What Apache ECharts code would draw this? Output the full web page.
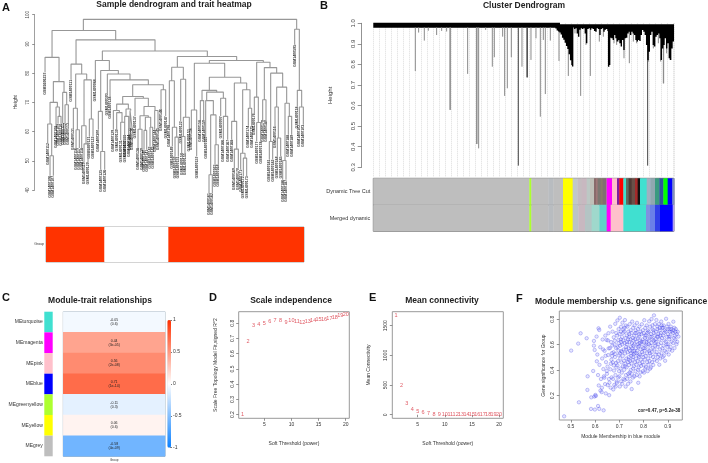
<!DOCTYPE html>
<html>
	<head>
		<meta charset="UTF-8">
		<title>WGCNA panels</title>
	</head>
	<style>
		*{
			padding: 0;
			margin: 0;
		}
		html,body{
			width:100%;
			height:100%;
			background:#fff;
		}
		#chart{
			width:708px;
			height:463px;
		}
	</style>
	<body>
		<div id="chart"></div>
	</body>
<script src="https://cdn.jsdelivr.net/npm/echarts@6/dist/echarts.min.js"></script>
<script>
    // A: sample tree, each branch = [left pos, right pos, merge height, left end, right end]
    var treeBranches = [
        [250,890,98.4,94.6,95.0],[884,898,95.0,89.7,74.1],[892,905,74.1,68.6,68.4],[898,910,68.4,62.3,62.3],
        [156,347,94.6,85.4,91.4],[135,177,85.4,80.2,77.1],[160,192,77.1,70.0,73.4],[150,172,70.0,62.6,68.4],
        [143,155,62.6,56.1,51.7],[150,160,51.7,44.9,44.9],[168,178,68.4,62.0,65.2],[174,183,65.2,62.7,62.7],
        [188,200,73.4,62.9,69.2],[195,205,69.2,62.9,62.9],
        [228,465,91.4,83.1,87.6],[213,245,83.1,77.7,79.7],[227,260,79.7,68.0,77.7],[220,232,68.0,61.2,60.6],
        [228,238,60.6,54.4,54.4],[252,274,77.7,62.0,64.3],[245,258,62.0,54.4,55.8],[252,264,55.8,49.5,49.5],
        [268,279,64.3,58.3,58.3],
        [307,622,87.6,84.3,85.7],[286,328,84.3,77.9,80.9],[302,355,80.9,66.9,79.7],[295,307,66.9,60.6,53.2],
        [302,314,53.2,46.9,46.9],[322,390,79.7,73.1,77.7],[330,445,77.7,72.0,76.0],[398,490,76.0,72.0,74.3],
        [368,430,72.0,69.4,71.4],[350,385,69.4,67.2,67.7],[340,358,67.2,60.6,66.5],[350,366,66.5,60.8,63.2],
        [362,374,63.2,57.0,57.0],[378,392,67.7,65.2,67.2],[374,386,65.2,58.9,58.9],[390,396,67.2,61.2,61.2],
        [405,445,71.4,65.2,68.6],[432,465,68.6,65.4,67.2],[420,445,65.4,60.8,64.9],[414,426,60.8,54.4,54.4],
        [436,452,64.9,60.4,61.5],[432,440,60.4,53.8,53.8],[450,458,61.5,54.9,54.9],[464,474,67.2,60.6,61.2],
        [483,497,74.3,67.7,65.2],
        [532,710,85.7,82.0,84.3],[515,550,82.0,77.4,77.9],[508,523,77.4,62.3,61.5],[517,530,61.5,54.9,58.1],
        [525,535,58.1,51.5,51.5],[542,557,77.9,63.5,64.9],[550,568,64.9,58.3,60.8],[545,555,58.3,52.6,52.6],
        [628,790,84.3,83.4,83.7],[583,674,83.4,67.4,78.6],[574,590,67.4,61.2,51.5],[628,722,78.6,74.1,76.6],
        [606,650,74.1,70.6,73.5],[601,611,70.6,64.0,64.0],[620,670,73.5,70.6,71.4],[617,640,70.6,58.3,65.7],
        [632,648,65.7,45.2,55.5],[627,637,45.2,39.0,39.0],[645,655,55.5,48.7,48.7],[662,677,71.4,65.2,65.2],
        [670,683,65.2,57.2,57.2],[703,740,76.6,63.5,74.3],[695,710,63.5,57.2,54.0],[703,715,54.0,47.5,47.5],
        [728,750,74.3,52.6,68.0],[722,735,52.6,46.9,50.9],[730,740,50.9,44.7,44.7],[745,755,68.0,62.0,62.0],
        [770,810,83.7,71.8,81.9],[763,775,71.8,66.3,63.1],[770,782,63.1,56.6,56.6],[793,830,81.9,70.9,80.0],
        [788,798,70.9,64.0,64.0],[812,848,80.0,56.6,75.2],[808,818,56.6,50.4,50.4],[830,860,75.2,68.4,69.7],
        [825,835,68.4,61.8,57.8],[832,842,57.8,51.5,51.5],[855,868,69.7,50.1,65.2],[848,858,50.1,43.5,43.5],
        [865,875,65.2,58.9,58.9]
    ];
    var namedLeaves = {135:'GSM1606237',143:'GSM1400112',213:'GSM1400111',220:'GSM1400131',286:'GSM1400088',295:'GSM1400300',322:'GSM1400303',508:'GSM1400198',542:'GSM1400122',662:'GSM1400097',825:'GSM1400116',884:'GSM1400595',892:'GSM1400118'};
    var groupSizes = [22,24,51];
    var groupColors = ['#ff3300','#ffffff','#ff3300'];

    // B: gene tree
    var geneDrops = [[126,.768],[136,.955],[153,.916],[165,.964],[190,.943],[205,.963],[220,.96],[230,.579],[231,.579],[283,.754],[310,.413],[311,.413],[316,.392],[337,.968],[357,.789],[363,.835],[388,.935],[394,.647],[402,.684],[414,.835],[446,.789],[473,.822],[488,.927],[501,.546],[510,.919],[516,.656],[531,.916],[557,.817],[585,.744],[605,.951],[622,.647],[638,.895],[651,.744],[678,.911],[690,.935],[722,.903],[730,.895],[735,.911],[752,.83],[768,.806],[780,.911],[790,.903],[825,.814],[840,.878],[855,.903],[862,.814],[870,.708],[871,.708],[880,.854],[890,.822]];
    var geneDarkDrops = [[435,.308],[461,.737],[462,.737],[823,.308]];
    var geneDense = [[548,.975],[552,.965],[556,.96],[560,.955],[564,.945],[568,.93],[572,.92],[576,.905],[580,.89],[584,.875],[588,.85],[592,.82],[596,.797],[598,.79],[600,.979],[604,.972],[608,.976],[612,.951],[616,.935],[620,.969],[624,.976],[628,.972],[632,.976],[636,.951],[640,.903],[644,.972],[648,.976],[652,.969],[656,.976],[660,.972],[664,.963],[668,.959],[672,.976],[676,.972],[680,.943],[684,.972],[688,.976],[692,.959],[696,.969],[700,.972],[704,.963],[706,.789],[709,.797],[712,.93],[716,.927],[720,.919],[724,.943],[728,.927],[732,.911],[736,.919],[740,.903],[744,.887],[748,.919],[752,.87],[756,.927],[760,.93],[764,.951],[768,.959],[772,.943],[776,.959],[780,.951],[784,.943],[788,.919],[792,.911],[796,.919],[800,.914],[804,.943],[808,.968],[812,.959],[816,.943],[820,.895],[824,.822],[828,.862],[832,.943],[836,.959],[840,.895],[844,.887],[848,.935],[852,.943],[856,.951],[860,.927],[864,.822],[868,.878],[872,.895],[876,.927],[880,.878],[884,.903],[888,.83],[892,.822],[896,.878],[900,.911]];
    var geneBandEnd = 560;
    var colorRowNames = ['Merged dynamic','Dynamic Tree Cut'];
    var dynamicRow = [[0,468,'#bebebe'],[468,474,'#adff2f'],[474,525,'#bebebe'],[525,540,'#b8bcc0'],[540,569,'#bebebe'],[569,598,'#ffff00'],[598,612,'#c0c8c8'],[612,625,'#c4bcc0'],[625,640,'#c8b8c0'],[640,650,'#bcc8c4'],[650,662,'#c0c0b8'],[662,668,'#8a6a6a'],[668,673,'#a07878'],[673,682,'#7d7770'],[682,688,'#8a7a6a'],[688,698,'#807070'],[698,700,'#a09090'],[700,716,'#ff00ff'],[716,731,'#ffc0cb'],[731,738,'#8020a0'],[738,750,'#ff0000'],[750,758,'#40e0d0'],[758,766,'#5f6a60'],[766,775,'#4f3a35'],[775,785,'#6a5048'],[785,793,'#a52a2a'],[793,800,'#111111'],[800,820,'#40e0d0'],[820,832,'#a0b0c0'],[832,845,'#90a8b0'],[845,858,'#3a9a80'],[858,870,'#3050a0'],[870,883,'#00ff00'],[883,897,'#0000ff'],[897,902,'#8090c0']];
    var mergedRow = [[0,468,'#bebebe'],[468,474,'#adff2f'],[474,525,'#bebebe'],[525,540,'#b8bcc0'],[540,569,'#bebebe'],[569,598,'#ffff00'],[598,615,'#bcc4c4'],[615,635,'#c8b8c0'],[635,655,'#b4c4c4'],[655,678,'#9fd8cc'],[678,700,'#5fd0c8'],[700,712,'#ff00ff'],[712,750,'#ffc0cb'],[750,818,'#40e0d0'],[818,830,'#8090e0'],[830,845,'#6a80e8'],[845,860,'#3040e8'],[860,898,'#0000ff'],[898,902,'#b0a0f0']];

    // C: module-trait table
    var moduleNames = ['MEturquoise','MEmagenta','MEpink','MEblue','MEgreenyellow','MEyellow','MEgrey'];
    var moduleColors = ['#40e0d0','#ff00ff','#ffc0cb','#0000ff','#adff2f','#ffff00','#bebebe'];
    var moduleCor = [-0.05,0.44,0.56,0.71,-0.11,0.06,-0.58];
    var moduleCellText = ['-0.05\n(0.6)','0.44\n(3e-05)','0.56\n(2e-08)','0.71\n(1e-14)','-0.11\n(0.3)','0.06\n(0.6)','-0.58\n(4e-09)'];

    // D / E: soft threshold
    var softPowers = [1,2,3,4,5,6,7,8,9,10,11,12,13,14,15,16,17,18,19,20];
    var fitIndex = [.2,.679,.784,.793,.8,.81,.817,.817,.806,.817,.813,.806,.81,.817,.824,.826,.83,.835,.848,.856];
    var meanConn = [1668,489,197,96,56,34,28,11,8,6,5,4,3,3,2,2,2,1,1,1];
    var powerTicks = [5,10,15,20];
    var fitTicks = [.2,.3,.4,.5,.6,.7,.8];
    var connTicks = [0,500,1000,1500];

    // F: blue module genes [membership, significance]
    var geneDots = [
        [.472,.038],[.501,.554],[.53,.609],[.54,.69],[.565,.651],[.533,.148],[.568,.245],[.569,.352],[.583,.096],[.584,.187],[.597,.193],[.601,.206],[.603,.198],[.599,.091],[.617,.096],[.612,.119],[.635,.085],[.592,.394],[.598,.559],[.595,.63],[.595,.593],[.614,.729],
        [.607,.47],[.612,.362],[.609,.523],[.615,.28],[.606,.664],[.621,.581],[.624,.331],[.618,.442],[.628,.262],[.617,.716],[.622,.24],[.633,.563],[.631,.641],[.636,.352],[.627,.228],[.629,.492],[.634,.409],
        [.642,.672],[.638,.341],[.645,.463],[.641,.291],[.647,.638],[.644,.218],[.639,.552],[.648,.394],[.643,.513],[.653,.634],[.656,.572],[.651,.428],[.657,.331],[.652,.283],[.658,.204],[.654,.519],[.649,.372],[.655,.691],
        [.662,.742],[.666,.621],[.661,.573],[.667,.482],[.663,.407],[.668,.344],[.659,.302],[.664,.263],[.669,.534],[.665,.451],[.672,.703],[.677,.659],[.671,.594],[.676,.541],[.673,.462],[.678,.397],[.674,.332],[.679,.284],[.675,.249],[.67,.512],[.677,.438],
        [.683,.764],[.687,.692],[.681,.631],[.686,.574],[.682,.503],[.688,.421],[.684,.362],[.689,.312],[.685,.272],[.68,.602],[.687,.457],[.683,.528],[.692,.791],[.697,.723],[.691,.672],[.696,.638],[.693,.581],[.698,.517],[.694,.471],[.699,.392],[.695,.343],[.69,.301],[.697,.612],[.692,.438],[.696,.553],
        [.702,.812],[.707,.741],[.701,.684],[.706,.642],[.703,.592],[.708,.551],[.704,.493],[.709,.462],[.705,.413],[.7,.352],[.707,.312],[.702,.272],[.706,.703],[.703,.531],[.708,.622],[.713,.773],[.717,.722],[.711,.661],[.716,.633],[.712,.602],[.718,.563],[.714,.512],[.719,.474],[.715,.431],[.71,.381],[.717,.332],[.712,.293],[.716,.693],[.711,.544],
        [.723,.794],[.727,.751],[.721,.702],[.726,.653],[.722,.614],[.728,.582],[.724,.532],[.729,.491],[.725,.452],[.72,.403],[.727,.362],[.722,.324],[.726,.271],[.721,.733],[.728,.563],[.723,.431],[.733,.742],[.737,.703],[.731,.672],[.736,.641],[.732,.603],[.738,.572],[.734,.541],[.739,.503],[.735,.463],[.73,.423],[.737,.372],[.732,.332],[.736,.293],[.731,.622],[.738,.484],
        [.743,.762],[.747,.714],[.741,.683],[.746,.642],[.742,.621],[.748,.584],[.744,.552],[.749,.513],[.745,.474],[.74,.441],[.747,.402],[.742,.353],[.746,.312],[.741,.664],[.748,.533],[.743,.382],[.753,.782],[.757,.733],[.751,.692],[.756,.654],[.752,.612],[.758,.593],[.754,.551],[.759,.524],[.755,.482],[.75,.453],[.757,.414],[.752,.373],[.756,.342],[.751,.252],[.758,.634],[.753,.572],[.757,.503],
        [.763,.752],[.767,.713],[.761,.671],[.766,.643],[.762,.604],[.768,.572],[.764,.532],[.769,.492],[.765,.463],[.76,.431],[.767,.392],[.762,.352],[.766,.691],[.761,.553],[.773,.772],[.777,.724],[.771,.693],[.776,.652],[.772,.623],[.778,.584],[.774,.553],[.779,.514],[.775,.472],[.77,.443],[.777,.404],[.772,.362],[.776,.604],[.771,.534],[.778,.301],
        [.783,.742],[.787,.703],[.781,.664],[.786,.632],[.782,.591],[.788,.563],[.784,.524],[.789,.483],[.785,.452],[.78,.421],[.787,.383],[.782,.682],[.786,.614],[.781,.503],[.784,.352],[.793,.761],[.797,.714],[.791,.683],[.796,.642],[.792,.604],[.798,.572],[.794,.543],[.799,.502],[.795,.463],[.79,.434],[.797,.392],[.792,.623],[.796,.524],
        [.803,.793],[.807,.732],[.801,.691],[.806,.654],[.802,.623],[.808,.592],[.804,.553],[.809,.512],[.805,.484],[.8,.442],[.807,.413],[.802,.381],[.806,.672],[.803,.574],[.813,.752],[.817,.713],[.811,.674],[.816,.642],[.812,.603],[.818,.564],[.814,.532],[.819,.492],[.815,.463],[.81,.424],[.817,.393],[.812,.621],[.816,.694],
        [.823,.784],[.827,.742],[.821,.703],[.826,.664],[.822,.632],[.828,.593],[.824,.552],[.829,.513],[.825,.472],[.82,.443],[.827,.412],[.822,.604],[.826,.534],[.833,.802],[.837,.723],[.831,.684],[.836,.642],[.832,.613],[.838,.574],[.834,.543],[.839,.504],[.835,.463],[.83,.422],[.837,.753],[.832,.662],
        [.843,.831],[.847,.762],[.841,.714],[.846,.672],[.842,.634],[.848,.593],[.844,.564],[.849,.524],[.845,.483],[.84,.441],[.847,.612],[.842,.693],[.853,.794],[.857,.743],[.851,.703],[.856,.664],[.852,.623],[.858,.584],[.854,.542],[.859,.503],[.855,.472],[.85,.643],[.857,.723],
        [.863,.762],[.867,.713],[.861,.684],[.866,.642],[.862,.603],[.868,.564],[.864,.523],[.869,.492],[.865,.443],[.86,.664],[.867,.732],[.873,.782],[.877,.734],[.871,.692],[.876,.653],[.872,.614],[.878,.572],[.874,.534],[.879,.503],[.875,.752],[.87,.673],
        [.883,.752],[.887,.713],[.881,.672],[.886,.634],[.882,.593],[.888,.553],[.884,.514],[.889,.474],[.885,.694],[.88,.733],[.893,.804],[.897,.742],[.891,.703],[.896,.662],[.892,.624],[.898,.584],[.894,.542],[.899,.723],[.895,.603],
        [.903,.763],[.907,.721],[.901,.683],[.906,.643],[.902,.604],[.908,.562],[.904,.523],[.909,.702],[.905,.664],[.913,.742],[.917,.703],[.911,.664],[.916,.624],[.912,.582],[.918,.553],[.914,.723],
        [.923,.781],[.927,.733],[.921,.692],[.926,.652],[.922,.613],[.928,.574],[.924,.714],[.929,.672],[.933,.723],[.937,.683],[.931,.642],[.936,.604],[.932,.703],[.941,.702],[.944,.664],[.939,.623]
    ];
    var memberTicks = [.5,.6,.7,.8,.9];
    var signifTicks = [.2,.4,.6,.8];

    var fontName = '"Liberation Sans"';
    var boxColor = '#999';

    // leaves = branch ends that no other branch starts from
    var treeLine = [];
    var leafDots = [];
    treeBranches.forEach(function (b) {
        treeLine.push([b[0], b[3]], [b[0], b[2]], [b[1], b[2]], [b[1], b[4]], [null, null]);
        [[b[0], b[3]], [b[1], b[4]]].forEach(function (end) {
            var inner = treeBranches.some(function (o) {
                return o[2] === end[1] && o[0] <= end[0] && end[0] <= o[1];
            });
            if (!inner) leafDots.push(end);
        });
    });

    function dropLine(list, top) {
        var out = [];
        list.forEach(function (d) {
            out.push([d[0], top], [d[0], d[1]], [null, null]);
        });
        return out;
    }

    function rowSeries(row, rowIndex) {
        return {
            type: 'custom',
            xAxisIndex: 4,
            yAxisIndex: 4,
            silent: true,
            data: row.map(function (s) { return [s[0], s[1], rowIndex]; }),
            encode: { x: [0, 1], y: 2 },
            renderItem: function (params, api) {
                var a = api.coord([api.value(0), api.value(2)]);
                var b = api.coord([api.value(1), api.value(2)]);
                var h = api.size([0, 1])[1];
                return {
                    type: 'rect',
                    shape: { x: a[0], y: a[1] - h / 2, width: b[0] - a[0] + 0.4, height: h },
                    style: { fill: row[params.dataIndex][2] }
                };
            }
        };
    }

    function rAxis(extra) {
        var o = {
            type: 'value',
            scale: true,
            splitLine: { show: false },
            axisLine: { show: false },
            axisTick: { length: 2.5, lineStyle: { color: '#777', width: 0.8 } },
            axisLabel: { fontFamily: fontName, fontSize: 5, color: '#333', margin: 4 },
            nameLocation: 'middle',
            nameTextStyle: { fontFamily: fontName, fontSize: 5, color: '#333' }
        };
        for (var k in extra) o[k] = extra[k];
        return o;
    }
    function tickedAxis(ticks, min, max, name, gap, rotate) {
        return rAxis({
            min: min,
            max: max,
            name: name,
            nameGap: gap,
            axisTick: { length: 2.5, customValues: ticks, lineStyle: { color: '#777', width: 0.8 } },
            axisLabel: { fontFamily: fontName, fontSize: 5, color: '#333', margin: 4, rotate: rotate, customValues: ticks, formatter: function (v) { return String(v); } }
        });
    }
    function powerSeries(idx, values) {
        return {
            type: 'scatter',
            xAxisIndex: idx,
            yAxisIndex: idx,
            symbolSize: 1,
            silent: true,
            itemStyle: { color: 'transparent' },
            label: {
                show: true,
                position: 'inside',
                fontFamily: fontName,
                fontSize: 5.5,
                color: '#d8303c',
                formatter: function (p) { return String(p.data[0]); }
            },
            data: softPowers.map(function (p, i) { return [p, values[i]]; })
        };
    }
    function head(text, x, y, size) {
        return { text: text, left: x, top: y, padding: 0, textAlign: 'center', textStyle: { fontFamily: fontName, fontWeight: 'bold', fontSize: size, color: '#222' } };
    }
    function letter(text, x, y) {
        return { text: text, left: x, top: y, padding: 0, textStyle: { fontFamily: fontName, fontWeight: 'bold', fontSize: 11, color: '#111' } };
    }

    var groupSeries = groupSizes.map(function (n, i) {
        return {
            type: 'bar',
            stack: 'group',
            xAxisIndex: 1,
            yAxisIndex: 1,
            barWidth: '100%',
            silent: true,
            itemStyle: { color: groupColors[i] },
            data: [n]
        };
    });

    var option = {
        animation: false,
        title: [
            letter('A', 2, 2), letter('B', 320, 0), letter('C', 2, 292), letter('D', 209, 292), letter('E', 369, 292), letter('F', 516, 293),
            head('Sample dendrogram and trait heatmap', 174, 0, 8.5),
            head('Cluster Dendrogram', 524, 1, 8.5),
            head('Module-trait relationships', 100, 296, 8.5),
            head('Scale independence', 291, 296, 8.5),
            head('Mean connectivity', 442, 296, 8.5),
            head('Module membership v.s. gene significance', 621, 297, 8.5)
        ],
        grid: [
            { left: 34.7, top: 14.7, width: 270.3, height: 175.3 },
            { left: 46, top: 227, width: 258, height: 35, show: true, borderColor: '#aaa', borderWidth: 1 },
            { left: 361.7, top: 23.3, width: 1, height: 144 },
            { left: 373.3, top: 23.3, width: 300.7, height: 153.7 },
            { left: 373.3, top: 178.3, width: 300.7, height: 53, show: true, borderColor: '#777', borderWidth: 1 },
            { left: 44.3, top: 311.7, width: 8.4, height: 144.6 },
            { left: 63.3, top: 311.7, width: 101.7, height: 144.6, show: true, borderColor: '#9aa8b4', borderWidth: 1 },
            { left: 170, top: 320, width: 1, height: 127.7 },
            { left: 238.7, top: 311.7, width: 110.6, height: 106.6, show: true, borderColor: boxColor, borderWidth: 1 },
            { left: 392.3, top: 311.7, width: 111, height: 106.6, show: true, borderColor: boxColor, borderWidth: 1 },
            { left: 559.3, top: 311, width: 123, height: 109, show: true, borderColor: boxColor, borderWidth: 1 }
        ],
        xAxis: [
            { type: 'value', gridIndex: 0, min: 104, max: 915, show: false },
            { type: 'value', gridIndex: 1, min: 0, max: 97, show: false },
            { type: 'value', gridIndex: 2, min: 0, max: 1, show: false },
            {
                type: 'value', gridIndex: 3, min: 0, max: 902, interval: 18,
                axisLine: { show: false }, axisTick: { show: false }, axisLabel: { show: false },
                splitLine: { show: true, lineStyle: { color: '#dcdcdc', type: 'dotted', width: 1 } }
            },
            { type: 'value', gridIndex: 4, min: 0, max: 902, show: false },
            { type: 'value', gridIndex: 5, min: 0, max: 1, show: false },
            {
                type: 'category', gridIndex: 6, data: ['Group'],
                axisLine: { show: false }, axisTick: { show: false },
                axisLabel: { fontFamily: fontName, fontSize: 3, color: '#333', margin: 2 }
            },
            { type: 'value', gridIndex: 7, min: 0, max: 1, show: false },
            Object.assign(tickedAxis(powerTicks, 0.29, 20.66, 'Soft Threshold (power)', 23, 0), { gridIndex: 8 }),
            Object.assign(tickedAxis(powerTicks, 0.31, 20.79, 'Soft Threshold (power)', 23, 0), { gridIndex: 9 }),
            Object.assign(tickedAxis(memberTicks, 0.452, 0.96, 'Module Membership in blue module', 14, 0), { gridIndex: 10 })
        ],
        yAxis: [
            Object.assign(rAxis({
                min: 40, max: 100, interval: 10, name: 'Height', nameGap: 17,
                axisLine: { show: true, lineStyle: { color: '#888', width: 0.8 } },
                axisLabel: { fontFamily: fontName, fontSize: 4.5, color: '#444', rotate: 90, margin: 4 }
            }), { gridIndex: 0 }),
            {
                type: 'category', gridIndex: 1, data: ['Group'],
                axisLine: { show: false }, axisTick: { show: false },
                axisLabel: { fontFamily: fontName, fontSize: 3.5, color: '#333', margin: 2 }
            },
            Object.assign(rAxis({
                min: 0.3, max: 1, interval: 0.1, name: 'Height', nameGap: 28,
                nameTextStyle: { fontFamily: fontName, fontSize: 6, color: '#333' },
                axisLine: { show: true, lineStyle: { color: '#777', width: 0.8 } },
                axisTick: { length: 4, lineStyle: { color: '#777', width: 0.8 } },
                axisLabel: { fontFamily: fontName, fontSize: 6, color: '#444', rotate: 90, margin: 5, formatter: function (v) { return v.toFixed(1); } }
            }), { gridIndex: 2 }),
            { type: 'value', gridIndex: 3, min: 0.2528, max: 1, show: false },
            {
                type: 'category', gridIndex: 4, data: colorRowNames,
                axisLine: { show: false }, axisTick: { show: false },
                axisLabel: { fontFamily: fontName, fontSize: 5.5, color: '#333', margin: 3 }
            },
            {
                type: 'category', gridIndex: 5, data: moduleNames, inverse: true,
                axisLine: { show: false }, axisTick: { show: false },
                axisLabel: { fontFamily: fontName, fontSize: 5, color: '#333', margin: 1.5 }
            },
            { type: 'category', gridIndex: 6, data: moduleNames, inverse: true, show: false },
            Object.assign(rAxis({
                min: -1, max: 1, interval: 0.5, position: 'right',
                axisTick: { length: 2, lineStyle: { color: '#555', width: 0.8 } },
                axisLabel: { fontFamily: fontName, fontSize: 5, color: '#333', margin: 2 }
            }), { gridIndex: 7 }),
            Object.assign(tickedAxis(fitTicks, 0.176, 0.876, 'Scale Free Topology Model Fit,signed R^2', 21, 90), { gridIndex: 8 }),
            Object.assign(tickedAxis(connTicks, -60, 1736, 'Mean Connectivity', 21, 90), { gridIndex: 9 }),
            Object.assign(tickedAxis(signifTicks, 0.009, 0.865, 'Gene significance for Group', 13, 90), { gridIndex: 10 })
        ],
        visualMap: {
            type: 'continuous',
            seriesIndex: 8,
            min: -1,
            max: 1,
            left: 167.3,
            top: 320,
            itemWidth: 3.7,
            itemHeight: 127.7,
            padding: 0,
            text: null,
            showLabel: false,
            calculable: false,
            inRange: { color: ['#0a80ff', '#ffffff', '#ff3000'] }
        },
        series: [
            // 0 sample tree
            {
                type: 'line', xAxisIndex: 0, yAxisIndex: 0, clip: false, silent: true, symbol: 'none',
                lineStyle: { color: '#979797', width: 1.1 },
                data: treeLine
            },
            // 1 sample ids
            {
                type: 'scatter', xAxisIndex: 0, yAxisIndex: 0, clip: false, silent: true, symbolSize: 1,
                itemStyle: { color: 'transparent' },
                label: {
                    show: true, position: 'inside', rotate: 90, align: 'right', verticalAlign: 'middle',
                    fontFamily: fontName, fontWeight: 'bold', fontSize: 3.6, color: '#000',
                    formatter: function (p) {
                        return namedLeaves[p.data[0]] || ('GSM1400' + (100 + p.dataIndex));
                    }
                },
                data: leafDots
            },
            // 2 gene tree guide axis
            { type: 'line', xAxisIndex: 2, yAxisIndex: 2, data: [] },
            // 3..6 gene tree
            {
                type: 'line', xAxisIndex: 3, yAxisIndex: 3, silent: true, symbol: 'none',
                lineStyle: { color: '#000', width: 5, cap: 'butt' },
                data: [[0, .991], [geneBandEnd, .991]]
            },
            {
                type: 'line', xAxisIndex: 3, yAxisIndex: 3, silent: true, symbol: 'none',
                lineStyle: { color: '#8a8a8a', width: 1 },
                data: dropLine(geneDrops, .98)
            },
            {
                type: 'line', xAxisIndex: 3, yAxisIndex: 3, silent: true, symbol: 'none',
                lineStyle: { color: '#444', width: 1 },
                data: dropLine(geneDarkDrops, .98)
            },
            {
                type: 'line', xAxisIndex: 3, yAxisIndex: 3, silent: true, symbol: 'none',
                lineStyle: { color: '#000', width: 1.4 },
                data: dropLine(geneDense, .995)
            },
            // 7 module colour column
            {
                type: 'bar', xAxisIndex: 5, yAxisIndex: 5, barWidth: '100%', silent: true,
                data: moduleColors.map(function (c) { return { value: 1, itemStyle: { color: c } }; })
            },
            // 8 correlation cells
            {
                type: 'heatmap', xAxisIndex: 6, yAxisIndex: 6, silent: true,
                label: {
                    show: true, fontFamily: fontName, fontSize: 3.5, lineHeight: 4, color: '#222',
                    formatter: function (p) { return moduleCellText[p.data[1]]; }
                },
                data: moduleCor.map(function (v, i) { return [0, i, v]; })
            },
            // 9 colour bar axis
            { type: 'line', xAxisIndex: 7, yAxisIndex: 7, data: [] },
            // 10, 11 soft threshold
            powerSeries(8, fitIndex),
            powerSeries(9, meanConn),
            // 12 module membership
            {
                type: 'scatter', xAxisIndex: 10, yAxisIndex: 10, silent: true, symbol: 'circle', symbolSize: 3.4,
                itemStyle: { color: 'rgba(90,90,255,0.18)', borderColor: 'rgba(50,50,225,0.5)', borderWidth: 0.7 },
                data: geneDots
            }
        ].concat([rowSeries(dynamicRow, 1), rowSeries(mergedRow, 0)], groupSeries),
        graphic: [
            {
                type: 'text', left: 638, top: 408,
                style: { text: 'cor=0.47, p=5.2e-38', font: 'bold 4.6px ' + fontName, fill: '#222' }
            },
            {
                type: 'rect', left: 373.3, top: 204.3, shape: { width: 300.7, height: 1.4 },
                style: { fill: '#666' }
            }
        ]
    };

    var myChart = echarts.init(document.getElementById('chart'));
    myChart.setOption(option);
</script>
</html>
